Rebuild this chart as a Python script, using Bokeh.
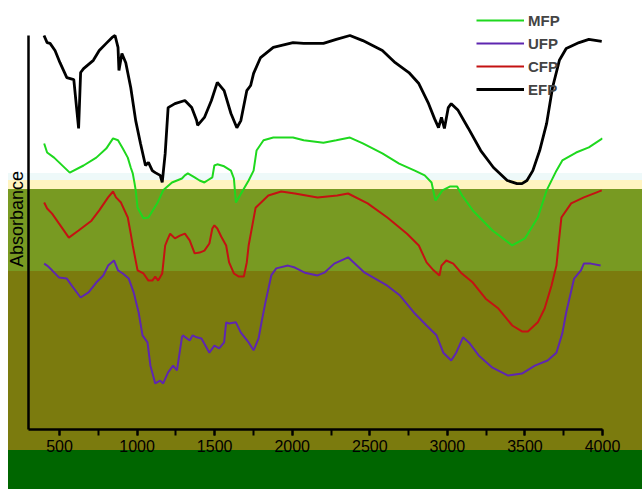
from bokeh.plotting import figure
from bokeh.models import Range1d, SingleIntervalTicker, FixedTicker, Legend
from bokeh.embed import file_html
from bokeh.resources import INLINE

# ---- data (wavenumber cm-1, stacked absorbance in arbitrary units) ----
efp_wn = [400, 420, 439, 471, 503, 547, 592, 623, 636, 655, 718, 756, 801, 839, 858, 877, 883, 902,
          927, 959, 991, 1022, 1054, 1073, 1098, 1117, 1149, 1162, 1168, 1181, 1200, 1244, 1308, 1352,
          1384, 1390, 1434, 1479, 1517, 1561, 1605, 1643, 1669, 1707, 1732, 1751, 1796, 1878, 2005,
          2074, 2201, 2284, 2372, 2455, 2581, 2664, 2752, 2816, 2879, 2917, 2943, 2962, 2981, 3006,
          3025, 3069, 3133, 3215, 3297, 3386, 3449, 3481, 3513, 3551, 3595, 3640, 3678, 3722, 3766,
          3849, 3912, 3995]
efp_ab = [100.0, 98.2, 98.0, 96.2, 93.1, 89.3, 88.8, 76.4, 90.6, 91.6, 93.7, 96.2, 98.0, 99.5, 100.0,
          97.0, 91.1, 95.4, 93.1, 86.8, 78.4, 72.6, 67.0, 67.8, 65.7, 65.2, 64.5, 62.7, 65.0, 70.0,
          81.7, 82.7, 83.5, 81.7, 78.4, 77.2, 79.2, 83.5, 88.1, 86.0, 80.2, 76.6, 78.4, 86.0, 87.3,
          90.4, 94.4, 97.0, 98.2, 98.0, 98.0, 99.0, 100.0, 98.7, 96.2, 93.1, 90.6, 87.8, 82.7, 78.9,
          76.6, 79.2, 76.4, 81.7, 82.7, 81.0, 76.6, 70.8, 66.5, 63.2, 62.4, 62.4, 63.2, 65.7, 70.8,
          77.7, 86.8, 93.7, 96.7, 98.2, 99.0, 98.5]

mfp_wn = [401, 420, 465, 566, 655, 737, 801, 845, 877, 908, 940, 959, 972, 984, 991, 1003, 1041, 1073,
          1130, 1168, 1225, 1289, 1308, 1327, 1371, 1403, 1434, 1453, 1485, 1498, 1517, 1561, 1605,
          1624, 1637, 1675, 1719, 1751, 1770, 1815, 1878, 2005, 2074, 2201, 2284, 2372, 2455, 2581,
          2689, 2790, 2854, 2898, 2923, 2968, 3019, 3063, 3095, 3164, 3291, 3418, 3500, 3583, 3640,
          3703, 3741, 3830, 3912, 4000]
mfp_ab = [72.6, 70.3, 69.0, 65.2, 67.0, 69.0, 71.3, 73.9, 73.4, 71.3, 69.0, 66.5, 65.0, 62.4, 60.7,
          56.3, 53.6, 53.8, 57.4, 60.7, 62.7, 63.7, 64.5, 65.0, 64.0, 63.2, 62.7, 63.2, 64.0, 67.0,
          67.3, 66.8, 65.7, 63.7, 57.6, 60.2, 63.2, 65.7, 70.8, 73.4, 74.1, 74.1, 73.4, 72.8, 73.4,
          74.1, 72.6, 70.1, 67.5, 65.7, 64.5, 62.7, 58.1, 60.7, 61.7, 61.7, 59.4, 55.6, 50.5, 46.7,
          48.5, 53.8, 60.7, 65.7, 68.3, 70.3, 71.6, 73.9]

cfp_wn = [401, 420, 452, 496, 560, 623, 706, 756, 813, 845, 864, 896, 940, 959, 972, 1003, 1041, 1073,
          1098, 1117, 1136, 1162, 1181, 1194, 1213, 1244, 1276, 1308, 1339, 1371, 1403, 1434, 1466,
          1485, 1498, 1517, 1542, 1574, 1593, 1624, 1656, 1688, 1707, 1719, 1764, 1846, 1929, 2017,
          2163, 2290, 2360, 2486, 2613, 2740, 2816, 2866, 2911, 2949, 2962, 2993, 3038, 3088, 3164,
          3247, 3329, 3418, 3481, 3519, 3583, 3627, 3671, 3703, 3716, 3735, 3798, 3880, 3963, 3995]
cfp_ab = [57.6, 56.1, 54.8, 52.3, 48.7, 50.5, 53.0, 55.6, 58.9, 60.4, 58.9, 57.6, 53.8, 49.7, 46.7,
          40.4, 39.6, 37.8, 37.8, 38.8, 37.8, 39.6, 46.7, 48.0, 49.7, 48.5, 49.2, 49.7, 48.0, 44.7,
          44.9, 45.4, 47.2, 51.0, 51.8, 51.0, 49.0, 46.7, 42.4, 39.6, 38.8, 38.8, 42.4, 46.7, 56.3,
          59.4, 60.4, 59.9, 58.9, 59.4, 59.9, 57.4, 53.8, 49.7, 46.7, 42.4, 40.4, 39.1, 41.6, 42.9,
          42.1, 39.8, 37.3, 33.2, 30.7, 26.4, 24.9, 24.9, 27.2, 30.7, 36.5, 41.6, 46.7, 53.8, 57.4,
          58.9, 60.2, 60.7]

ufp_wn = [401, 420, 452, 496, 547, 579, 636, 687, 737, 782, 813, 851, 877, 908, 946, 978, 1010, 1035,
          1067, 1086, 1117, 1149, 1168, 1200, 1232, 1257, 1289, 1295, 1339, 1358, 1384, 1415, 1466,
          1498, 1529, 1561, 1574, 1593, 1637, 1669, 1719, 1751, 1783, 1802, 1827, 1865, 1897, 1973,
          2017, 2081, 2163, 2207, 2271, 2360, 2467, 2613, 2695, 2784, 2866, 2930, 2974, 3025, 3057,
          3101, 3139, 3202, 3291, 3392, 3481, 3564, 3646, 3703, 3741, 3766, 3817, 3861, 3880, 3925,
          3988]
ufp_ab = [42.1, 41.6, 40.4, 38.6, 38.3, 36.5, 33.5, 34.8, 37.3, 39.1, 41.6, 42.9, 40.4, 39.6, 38.3,
          34.8, 29.7, 23.9, 22.1, 16.2, 11.7, 12.4, 11.7, 14.5, 16.2, 15.0, 23.4, 23.9, 22.6, 23.9,
          23.4, 23.1, 19.5, 21.3, 20.6, 22.1, 27.2, 26.9, 27.2, 24.6, 22.1, 20.1, 23.1, 27.2, 32.2,
          39.1, 40.9, 41.6, 41.1, 39.8, 39.1, 39.8, 42.1, 43.7, 39.8, 36.5, 34.0, 29.7, 26.4, 23.9,
          19.5, 17.5, 19.5, 23.4, 22.1, 18.8, 15.7, 13.7, 14.2, 16.2, 17.5, 19.5, 24.4, 29.7, 38.3,
          40.4, 42.1, 42.1, 41.6]

series_names = ["MFP", "UFP", "CFP", "EFP"]
series_colors = ["#1ED81E", "#5E26B0", "#C41212", "#000000"]
series_widths = [2, 2, 2, 2.8]

x_ticks_interval = 500

p = figure(width=642, height=489, output_backend="svg", toolbar_location=None,
           x_range=Range1d(300, 4000), y_range=Range1d(0, 106.85),
           min_border_left=28, min_border_right=40, min_border_top=8, min_border_bottom=60)
p.border_fill_color = None
p.background_fill_color = None
p.outline_line_color = None
p.grid.visible = False
p.styles = {"background":
            "linear-gradient(to right, #ffffff 8px, rgba(255,255,255,0) 8px), "
            "linear-gradient(to bottom, #ffffff 0px, #ffffff 173px, "
            "#eef9f9 173px, #eef9f9 180px, #fff4c0 180px, #fff4c0 189px, "
            "#789a22 189px, #789a22 271px, #7b7b0e 271px, #7b7b0e 450px, "
            "#006600 450px, #006600 100%)"}

xs = [mfp_wn, ufp_wn, cfp_wn, efp_wn]
ys = [mfp_ab, ufp_ab, cfp_ab, efp_ab]
renderers = []
for name, color, lw, x, y in zip(series_names, series_colors, series_widths, xs, ys):
    r = p.line(x, y, line_color=color, line_width=lw)
    renderers.append(r)

# x axis
xa = p.xaxis[0]
xa.ticker = SingleIntervalTicker(interval=x_ticks_interval, num_minor_ticks=2)
xa.axis_line_width = 2.5
xa.axis_line_color = "black"
xa.major_tick_out = 6
xa.major_tick_in = 0
xa.minor_tick_out = 6
xa.minor_tick_in = 0
xa.major_tick_line_width = 2
xa.minor_tick_line_width = 2
xa.major_label_text_font = "Liberation Sans"
xa.major_label_text_font_size = "16px"
xa.major_label_text_color = "black"
xa.major_label_standoff = 4

# y axis
ya = p.yaxis[0]
ya.ticker = FixedTicker(ticks=[])
ya.bounds = (0, 100)
ya.axis_line_width = 2.5
ya.axis_line_color = "black"
ya.major_tick_line_color = None
ya.minor_tick_line_color = None
ya.major_label_text_font_size = "0px"
ya.axis_label = "Absorbance"
ya.axis_label_text_font = "Liberation Sans"
ya.axis_label_text_font_size = "18px"
ya.axis_label_text_font_style = "normal"
ya.axis_label_text_color = "black"
ya.axis_label_standoff = 2

legend = Legend(items=[(n, [r]) for n, r in zip(series_names, renderers)],
                location=(448, 330))
legend.border_line_color = None
legend.background_fill_alpha = 0
legend.label_text_font = "Liberation Sans"
legend.label_text_font_style = "bold"
legend.label_text_font_size = "15px"
legend.glyph_width = 48
legend.glyph_height = 20
legend.label_height = 20
legend.spacing = 3
legend.padding = 0
legend.margin = 0
legend.label_standoff = 4
p.add_layout(legend)

open("out.html", "w").write(file_html(p, INLINE))
